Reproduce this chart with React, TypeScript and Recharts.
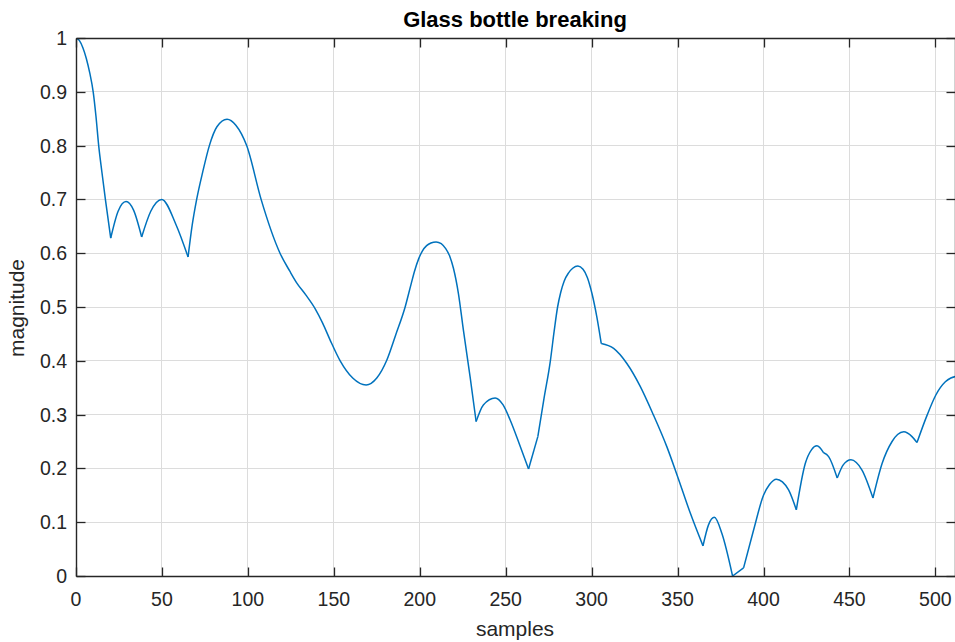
import React from "react";
import { LineChart, Line, XAxis, YAxis, CartesianGrid, Customized } from "recharts";

// Spectrum magnitude of a glass bottle breaking, read at irregular points along the curve
const sampleIndex = [
  0, 2, 4, 6, 8, 10, 11.6, 13.2, 15.1, 17.1, 20.2,
  24.5, 29.1, 33.5, 38.2,
  43.5, 49.9, 58.2, 65.2,
  67.6, 70.2, 73.8, 77.6, 82, 87.9, 93, 99.3, 107.7, 118.7, 124.5, 128.4, 133.8, 139.1, 143.5, 147.8, 153.7, 161, 168.8, 175, 180.8,
  186, 191.5, 195, 197, 199.3, 201.5, 204, 206.5, 209.5, 212.5, 215, 217.5, 219.6, 222.5, 225.4, 229.3, 232.8,
  237, 243.9, 248.5, 252.6, 258, 263.3,
  268.7,
  272.3, 276, 278.2, 280.2, 282, 284, 286.5, 289, 292, 295, 297.5, 300.2, 303, 305.6,
  312.8, 320.5, 328.2, 336, 343.8, 350, 357.4, 364.8,
  368, 371.4, 375.8, 382,
  388.4,
  394.2, 400, 403.5, 407.5, 411, 414.6, 419.1,
  424.3, 428, 431.1, 435,
  437.9, 442.9,
  446.5, 450.9, 454, 457.3, 463.7,
  469, 474.8, 478, 481.6, 486.4, 489.3,
  495.2, 500.2, 505.8, 509, 512,
];

const magnitude = [
  1.0, 0.995, 0.982, 0.962, 0.935, 0.9, 0.855, 0.8, 0.75, 0.7, 0.628,
  0.678, 0.696, 0.68, 0.63,
  0.678, 0.7, 0.653, 0.593,
  0.652, 0.7, 0.752, 0.8, 0.835, 0.849, 0.838, 0.8, 0.7, 0.6, 0.566, 0.545, 0.522, 0.497, 0.47, 0.439, 0.4, 0.368, 0.355, 0.368, 0.401,
  0.448, 0.5, 0.543, 0.567, 0.589, 0.604, 0.614, 0.619, 0.621, 0.618, 0.609, 0.594, 0.572, 0.525, 0.457, 0.37, 0.287,
  0.318, 0.331, 0.318, 0.29, 0.245, 0.199,
  0.259,
  0.33, 0.4, 0.455, 0.5, 0.527, 0.548, 0.563, 0.572, 0.576, 0.57, 0.555, 0.525, 0.482, 0.432,
  0.423, 0.395, 0.353, 0.299, 0.24, 0.185, 0.117, 0.056,
  0.095, 0.109, 0.079, 0.0,
  0.015,
  0.085, 0.15, 0.17, 0.18, 0.175, 0.16, 0.123,
  0.209, 0.235, 0.242, 0.229,
  0.222, 0.182,
  0.207, 0.216, 0.211, 0.197, 0.145,
  0.209, 0.25, 0.263, 0.268, 0.259, 0.248,
  0.299, 0.336, 0.361, 0.368, 0.371,
];

// Sample positions where the curve has a corner (cusps and kinks)
const corners = [20.2, 38.2, 65.2, 232.8, 263.3, 268.7, 305.6, 364.8, 382, 388.4, 419.1, 435, 442.9, 463.7, 489.3];

const xTicks = [0, 50, 100, 150, 200, 250, 300, 350, 400, 450, 500];
const yTicks = [0, 0.1, 0.2, 0.3, 0.4, 0.5, 0.6, 0.7, 0.8, 0.9, 1];

const X_MAX = 512;
const FONT = "'Liberation Sans', Arial, Helvetica, sans-serif";
const AXIS_COLOR = "#262626";

// Chart geometry
const CHART_W = 956;
const CHART_H = 642;
const PLOT_LEFT = 76;
const PLOT_TOP = 38;
const PLOT_BOTTOM = 576;
const PLOT_W = CHART_W - PLOT_LEFT;
const PLOT_H = PLOT_BOTTOM - PLOT_TOP;
const TICK_LEN = 9;

type Pt = { x: number; y: number };

// Split the curve at its corners so each smooth piece is interpolated on its own
const points: Pt[] = sampleIndex.map((x, i) => ({ x, y: magnitude[i] }));
const pieces: Pt[][] = [];
{
  let cur: Pt[] = [];
  points.forEach((p) => {
    cur.push(p);
    if (corners.includes(p.x)) {
      pieces.push(cur);
      cur = [p];
    }
  });
  if (cur.length > 1) pieces.push(cur);
}

const BottomTick = (props: any) => {
  const { x, y, payload } = props;
  return (
    <text x={x} y={y + 30} textAnchor="middle" fontFamily={FONT} fontSize={19.5} fill={AXIS_COLOR}>
      {payload.value}
    </text>
  );
};

const LeftTick = (props: any) => {
  const { x, y, payload } = props;
  return (
    <text x={x - 9} y={y + 7} textAnchor="end" fontFamily={FONT} fontSize={19.5} fill={AXIS_COLOR}>
      {payload.value}
    </text>
  );
};

const Titles = () => (
  <g>
    <text x={515} y={27} textAnchor="middle" fontFamily={FONT} fontSize={22} fontWeight="bold" fill="#000">
      Glass bottle breaking
    </text>
    <text x={515} y={636} textAnchor="middle" fontFamily={FONT} fontSize={21} fill={AXIS_COLOR}>
      samples
    </text>
    <text
      x={24}
      y={308}
      textAnchor="middle"
      fontFamily={FONT}
      fontSize={21}
      fill={AXIS_COLOR}
      transform="rotate(-90 24 308)"
    >
      magnitude
    </text>
  </g>
);

// Box outline with inward tick marks on all four sides, snapped to whole pixels
const AxesBox = () => {
  const snap = (v: number) => Math.round(v) + 0.5;
  const px = (v: number) => snap(PLOT_LEFT + (v / X_MAX) * PLOT_W);
  const py = (v: number) => snap(PLOT_BOTTOM - v * PLOT_H);
  const L = snap(PLOT_LEFT);
  const T = snap(PLOT_TOP);
  const B = snap(PLOT_BOTTOM);
  const R = snap(CHART_W - 1);
  const box = { stroke: AXIS_COLOR, strokeWidth: 1.4 };
  const tick = { stroke: AXIS_COLOR, strokeWidth: 1.3 };
  return (
    <svg
      width={955}
      height={CHART_H}
      style={{ position: "absolute", left: 0, top: 0, pointerEvents: "none", zIndex: 2 }}
    >
      <line x1={L} x2={R} y1={T} y2={T} {...box} />
      <line x1={L} x2={R} y1={B} y2={B} {...box} />
      <line x1={L} x2={L} y1={T} y2={B} {...box} />
      <line x1={R} x2={R} y1={T} y2={B} {...box} />
      {xTicks.map((t) => (
        <g key={`x${t}`}>
          <line x1={px(t)} x2={px(t)} y1={B} y2={B - TICK_LEN} {...tick} />
          <line x1={px(t)} x2={px(t)} y1={T} y2={T + TICK_LEN} {...tick} />
        </g>
      ))}
      {yTicks.map((t) => (
        <g key={`y${t}`}>
          <line x1={L} x2={L + TICK_LEN} y1={py(t)} y2={py(t)} {...tick} />
          <line x1={R} x2={R - TICK_LEN} y1={py(t)} y2={py(t)} {...tick} />
        </g>
      ))}
    </svg>
  );
};

export default function App() {
  return (
    <div style={{ position: "absolute", left: 0, top: 0, width: 955, height: CHART_H, overflow: "hidden", background: "#fff" }}>
      <LineChart width={CHART_W} height={CHART_H} margin={{ top: PLOT_TOP, right: 0, bottom: 0, left: 0 }}>
        <CartesianGrid stroke="#dcdcdc" strokeWidth={1} shapeRendering="crispEdges" />
        <XAxis
          type="number"
          dataKey="x"
          domain={[0, X_MAX]}
          ticks={xTicks}
          allowDataOverflow
          height={CHART_H - PLOT_BOTTOM}
          tickSize={0}
          tickMargin={0}
          tickLine={false}
          axisLine={false}
          tick={<BottomTick />}
          interval={0}
        />
        <YAxis
          type="number"
          domain={[0, 1]}
          ticks={yTicks}
          allowDataOverflow
          width={PLOT_LEFT}
          tickSize={0}
          tickMargin={0}
          tickLine={false}
          axisLine={false}
          tick={<LeftTick />}
          interval={0}
        />
        {pieces.map((seg, i) => (
          <Line
            key={i}
            data={seg}
            dataKey="y"
            type="monotone"
            stroke="#0072BD"
            strokeWidth={1.5}
            dot={false}
            activeDot={false}
            isAnimationActive={false}
          />
        ))}
        <Customized component={Titles} />
      </LineChart>
      <AxesBox />
    </div>
  );
}
